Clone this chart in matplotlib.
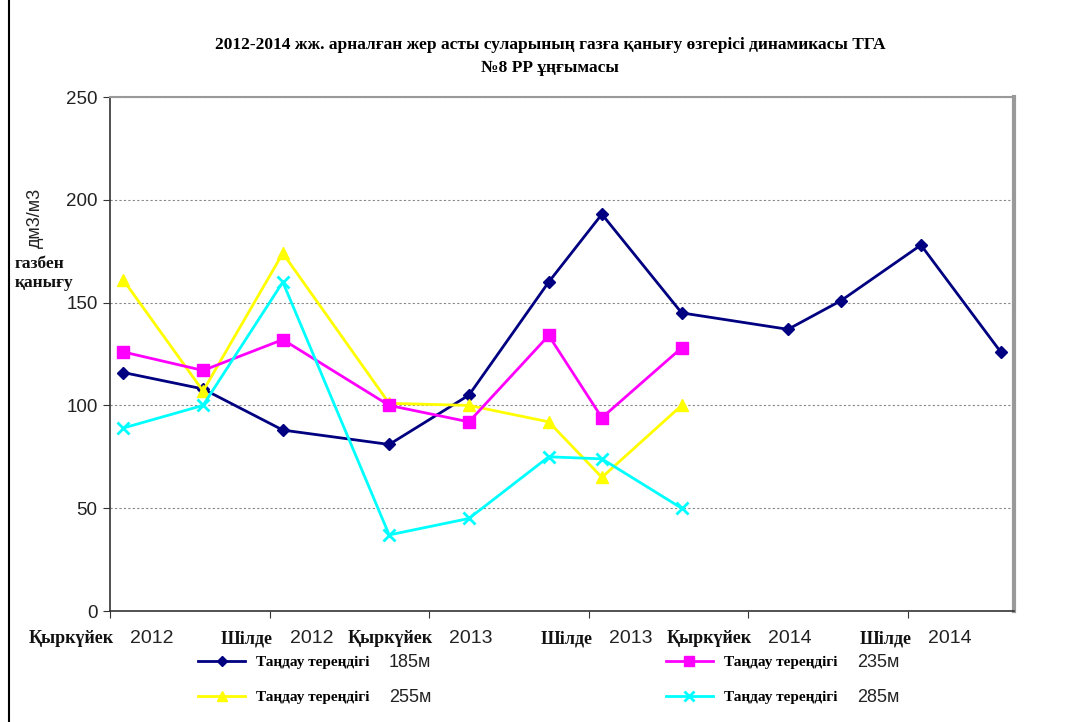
import matplotlib
matplotlib.use("Agg")
import matplotlib.pyplot as plt
from matplotlib.lines import Line2D
from matplotlib.text import Annotation

# Ай индекстері (0 = бірінші өлшем), екі өлшем арасы айлармен
months = [0, 3, 6, 10, 13, 16, 18, 21, 25, 27, 30, 33]
n_cat = 34

d185 = [116, 108, 88, 81, 105, 160, 193, 145, 137, 151, 178, 126]
d235 = [126, 117, 132, 100, 92, 134, 94, 128]
d255 = [161, 107, 174, 101, 100, 92, 65, 100]
d285 = [89, 100, 160, 37, 45, 75, 74, 50]

depths = ["185м", "235м", "255м", "285м"]
tick_month = ["Қыркүйек", "Шілде", "Қыркүйек", "Шілде", "Қыркүйек", "Шілде"]
tick_year = ["2012", "2012", "2013", "2013", "2014", "2014"]
tick_cat = [0, 6, 12, 18, 24, 30]

SERIF = "Liberation Serif"
SANS = "Liberation Sans"

fig = plt.figure(figsize=(10.65, 7.22), dpi=100)
ax = fig.add_axes([110 / 1065, 1 - 611 / 722, (1014 - 110) / 1065, (611 - 97) / 722])

series = [
    (d185, "#000080", "D", 6, depths[0]),
    (d255, "#ffff00", "^", 8, depths[2]),
    (d235, "#ff00ff", "s", 9, depths[1]),
    (d285, "#00ffff", "x", 8, depths[3]),
]
handles = {}
for vals, col, mk, ms, lab in series:
    (h,) = ax.plot(months[:len(vals)], vals, color=col, lw=2, marker=mk, ms=ms,
                   mew=2 if mk == "x" else 1, zorder=3)
    handles[lab] = h

ax.set_xlim(-0.5, n_cat - 0.5)
ax.set_ylim(0, 250)
ax.set_yticks([0, 50, 100, 150, 200, 250])
ax.tick_params(axis="y", labelsize=13.5, length=5, color="#333", pad=4)
for t in ax.get_yticklabels():
    t.set_fontfamily(SANS)
    t.set_color("#222")
ax.yaxis.grid(True, ls=(0, (2, 2)), lw=0.8, color="#888")
ax.set_axisbelow(True)

# шекаралық белгілер әр 6 санаттан
ax.set_xticks([c - 0.5 for c in tick_cat])
ax.set_xticklabels([])
ax.tick_params(axis="x", length=5, color="#333", direction="out")

for s in ("left", "bottom"):
    ax.spines[s].set_color("#333")
    ax.spines[s].set_linewidth(1.2)
ax.spines["top"].set_color("#999")
ax.spines["top"].set_linewidth(1.5)
ax.spines["right"].set_color("#999")
ax.spines["right"].set_linewidth(3)

# x белгілері: ай аты жуан serif, жыл sans
for c, m, y in zip(tick_cat, tick_month, tick_year):
    ax.annotate(m, xy=(c, 0), xycoords=("data", "axes fraction"), xytext=(-7, -14),
                textcoords="offset points", ha="right", va="top",
                fontsize=13, fontweight="bold", family=SERIF, color="#111")
    ax.annotate(y, xy=(c, 0), xycoords=("data", "axes fraction"), xytext=(5, -14),
                textcoords="offset points", ha="left", va="top",
                fontsize=14, family=SANS, color="#222")

fig.text(550 / 1065, 1 - 45 / 722,
         "2012-2014 жж. арналған жер асты суларының газға қанығу өзгерісі динамикасы ТГА",
         ha="center", va="center", fontsize=12.5, fontweight="bold", family=SERIF)
fig.text(550 / 1065, 1 - 68 / 722, "№8 РР ұңғымасы",
         ha="center", va="center", fontsize=12.5, fontweight="bold", family=SERIF)

fig.text(35 / 1065, 1 - 218 / 722, "дм3/м3", rotation=90, ha="center", va="center",
         fontsize=13, family=SANS, color="#222")
fig.text(15 / 1065, 1 - 273 / 722, "газбен\nқанығу", ha="left", va="center",
         fontsize=12.5, fontweight="bold", family=SERIF, color="#111", linespacing=1.25)

order = [depths[0], depths[2], depths[1], depths[3]]
leg = fig.legend([handles[k] for k in order], ["Таңдау тереңдігі"] * 4,
                 ncol=2, loc="center left", bbox_to_anchor=(198 / 1065, 1 - 680 / 722),
                 frameon=False, borderpad=0, borderaxespad=0,
                 handlelength=3.1, handletextpad=0.7, columnspacing=19.4,
                 labelspacing=1.4, markerscale=0.85,
                 prop={"family": SERIF, "weight": "bold", "size": 11})
for txt, k in zip(leg.get_texts(), order):
    fig.add_artist(Annotation(
        k, xy=(1, 0.5), xycoords=txt, xytext=(14, 0), textcoords="offset points",
        ha="left", va="center", fontsize=13, family=SANS, color="#222", zorder=10))

fig.add_artist(Line2D([9 / 1065, 9 / 1065], [0, 1], color="black", lw=1.5))

fig.savefig("out.png", dpi=100)
